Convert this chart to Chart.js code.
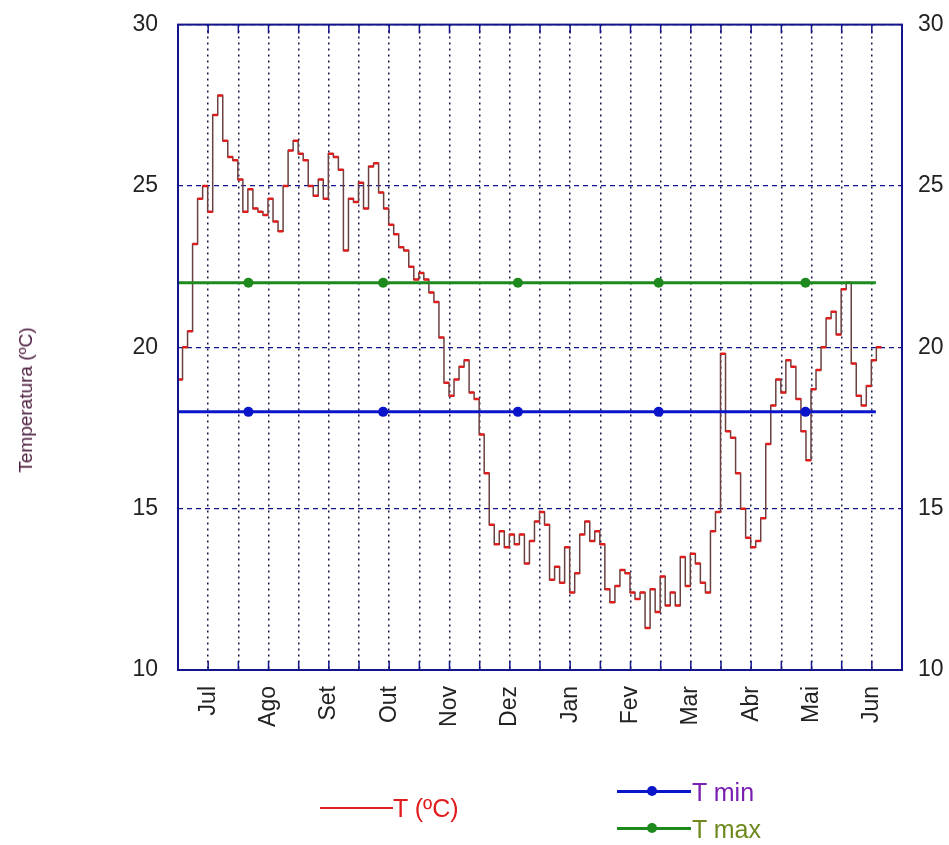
<!DOCTYPE html>
<html>
<head>
<meta charset="utf-8">
<script src="https://cdn.jsdelivr.net/npm/chart.js@4.4.1/dist/chart.umd.min.js"></script>
<style>
    body { margin: 0; background: #fff; }
    #wrap { position: relative; width: 949px; height: 845px; font-family: "Liberation Sans", Arial, sans-serif; }
    #tempChart { position: absolute; left: 0; top: 0; }
    .ytitle { position: absolute; left: 26px; top: 400px; transform: translate(-50%, -50%) rotate(-90deg); white-space: nowrap; font-size: 19px; color: #4e2040; }
    .leg-line { position: absolute; }
    .leg-dot { position: absolute; width: 10px; height: 10px; border-radius: 50%; }
    .leg-text { position: absolute; font-size: 25px; line-height: 26px; }
</style>
</head>
<body>
<div id="wrap">
    <canvas id="tempChart" width="949" height="845"></canvas>
    <div class="ytitle">Temperatura (ºC)</div>

    <div class="leg-line" style="left:320px; top:807px; width:73px; height:2px; background:#e01c1c;"></div>
    <div class="leg-text" style="left:393px; top:795px; color:#e01c1c;">T (ºC)</div>

    <div class="leg-line" style="left:617px; top:790px; width:74px; height:3px; background:#0a14c8;"></div>
    <div class="leg-dot" style="left:647px; top:786px; background:#0a14c8;"></div>
    <div class="leg-text" style="left:692px; top:779px; color:#7a1fb0;">T min</div>

    <div class="leg-line" style="left:617px; top:827px; width:74px; height:3px; background:#1e8a1e;"></div>
    <div class="leg-dot" style="left:647px; top:823px; background:#1e8a1e;"></div>
    <div class="leg-text" style="left:692px; top:816px; color:#6e8a1e;">T max</div>
</div>

<script>
// month names, one label every other grid line (grid every 15 days)
const months = ['Jul', 'Ago', 'Set', 'Out', 'Nov', 'Dez', 'Jan', 'Fev', 'Mar', 'Abr', 'Mai', 'Jun'];

// temperature readings, one every 2.5 days starting at day 1
const tStartDay = 1;
const tStepDays = 2.5;
const tempValues = [
    19.0, 20.0, 20.5, 23.2, 24.6, 25.0, 24.2, 27.2, 27.8, 26.4,
    25.9, 25.8, 25.2, 24.2, 24.9, 24.3, 24.2, 24.1, 24.6, 23.9,
    23.6, 25.0, 26.1, 26.4, 26.0, 25.8, 25.0, 24.7, 25.2, 24.6,
    26.0, 25.9, 25.5, 23.0, 24.6, 24.5, 25.1, 24.3, 25.6, 25.7,
    24.8, 24.3, 23.8, 23.5, 23.1, 23.0, 22.5, 22.1, 22.3, 22.1,
    21.7, 21.4, 20.3, 18.9, 18.5, 19.0, 19.4, 19.6, 18.6, 18.4,
    17.3, 16.1, 14.5, 13.9, 14.3, 13.8, 14.2, 13.9, 14.2, 13.3,
    14.0, 14.6, 14.9, 14.5, 12.8, 13.2, 12.7, 13.8, 12.4, 13.0,
    14.2, 14.6, 14.0, 14.3, 13.9, 12.5, 12.1, 12.6, 13.1, 13.0,
    12.4, 12.2, 12.4, 11.3, 12.5, 11.8, 12.9, 12.0, 12.4, 12.0,
    13.5, 12.6, 13.6, 13.3, 12.7, 12.4, 14.3, 14.9, 19.8, 17.4,
    17.2, 16.1, 15.0, 14.1, 13.8, 14.0, 14.7, 17.0, 18.2, 19.0,
    18.6, 19.6, 19.4, 18.4, 17.4, 16.5, 18.7, 19.3, 20.0, 20.9,
    21.1, 20.4, 21.8, 22.0, 19.5, 18.5, 18.2, 18.8, 19.6, 20.0
];

// reference lines: days where the line starts, has markers, and ends
const refDays = [0, 35, 102, 169, 239, 312, 347];
const refMarkers = [0, 5, 5, 5, 5, 5, 0];
const tMinValues = [18, 18, 18, 18, 18, 18, 18];
const tMaxValues = [22, 22, 22, 22, 22, 22, 22];

const yTicks = [10, 15, 20, 25, 30];

const navy = '#14148c';
const red = '#e01c1c';
const blue = '#0a14c8';
const green = '#1e8a1e';

const tempPoints = tempValues.map((v, i) => ({ x: tStartDay + i * tStepDays, y: v }));
const tMinPoints = refDays.map((d, i) => ({ x: d, y: tMinValues[i] }));
const tMaxPoints = refDays.map((d, i) => ({ x: d, y: tMaxValues[i] }));

// frame round the plot and short inner ticks on top/bottom
const framePlugin = {
    id: 'frame',
    afterDraw(chart) {
        const { ctx, chartArea: a, scales } = chart;
        ctx.save();
        ctx.strokeStyle = navy;
        ctx.lineWidth = 2;
        ctx.setLineDash([]);
        ctx.strokeRect(a.left, a.top, a.right - a.left, a.bottom - a.top);
        ctx.lineWidth = 1.5;
        scales.x.ticks.forEach(t => {
            const px = scales.x.getPixelForValue(t.value);
            ctx.beginPath();
            ctx.moveTo(px, a.bottom);
            ctx.lineTo(px, a.bottom - 9);
            ctx.moveTo(px, a.top);
            ctx.lineTo(px, a.top + 9);
            ctx.stroke();
        });
        ctx.restore();
    }
};

const tickFont = { family: 'Liberation Sans', size: 23 };
// small line height keeps the top label from pushing the plot down
const yTickFont = { family: 'Liberation Sans', size: 23, lineHeight: 0.4 };

const ctx = document.getElementById('tempChart').getContext('2d');
let tempChart = new Chart(ctx, {
    type: 'line',
    data: {
        datasets: [{
            label: 'T max',
            data: tMaxPoints,
            borderColor: green,
            backgroundColor: green,
            borderWidth: 3,
            pointRadius: refMarkers,
            pointHoverRadius: refMarkers,
            pointBorderWidth: 0,
            order: 2
        }, {
            label: 'T min',
            data: tMinPoints,
            borderColor: blue,
            backgroundColor: blue,
            borderWidth: 3,
            pointRadius: refMarkers,
            pointHoverRadius: refMarkers,
            pointBorderWidth: 0,
            order: 1
        }, {
            label: 'T (ºC)',
            data: tempPoints,
            stepped: 'middle',
            borderColor: '#6a4040',
            borderWidth: 1.5,
            pointStyle: 'line',
            pointRadius: 2.6,
            pointBorderColor: red,
            pointBorderWidth: 2.5,
            order: 3
        }]
    },
    options: {
        responsive: false,
        animation: false,
        layout: { padding: { top: 24, left: 0, right: 0, bottom: 0 } },
        plugins: {
            legend: { display: false },
            tooltip: { enabled: false }
        },
        scales: {
            x: {
                type: 'linear',
                min: 0,
                max: 360,
                afterFit: (s) => { s.height = 175; },
                afterBuildTicks: (s) => {
                    s.ticks = [];
                    for (let v = 15; v < 360; v += 15) s.ticks.push({ value: v });
                },
                grid: { color: '#16164a', lineWidth: 1.5, drawTicks: false },
                border: { display: false, dash: [2, 4] },
                ticks: {
                    autoSkip: false,
                    minRotation: 90,
                    maxRotation: 90,
                    padding: 16,
                    color: '#222',
                    font: tickFont,
                    callback: (v) => {
                        const k = v / 15;
                        return k % 2 === 1 ? months[(k - 1) / 2] : '';
                    }
                }
            },
            y: {
                position: 'left',
                min: 10,
                max: 30,
                afterFit: (s) => { s.width = 178; },
                afterBuildTicks: (s) => { s.ticks = yTicks.map(v => ({ value: v })); },
                grid: { color: navy, lineWidth: 1.2, drawTicks: false },
                border: { display: false, dash: [5, 4] },
                ticks: { padding: 20, color: '#222', font: yTickFont }
            },
            y2: {
                position: 'right',
                min: 10,
                max: 30,
                afterFit: (s) => { s.width = 47; },
                afterBuildTicks: (s) => { s.ticks = yTicks.map(v => ({ value: v })); },
                grid: { display: false, drawTicks: false },
                border: { display: false },
                ticks: { padding: 16, color: '#222', font: yTickFont }
            }
        }
    },
    plugins: [framePlugin]
});
</script>
</body>
</html>
